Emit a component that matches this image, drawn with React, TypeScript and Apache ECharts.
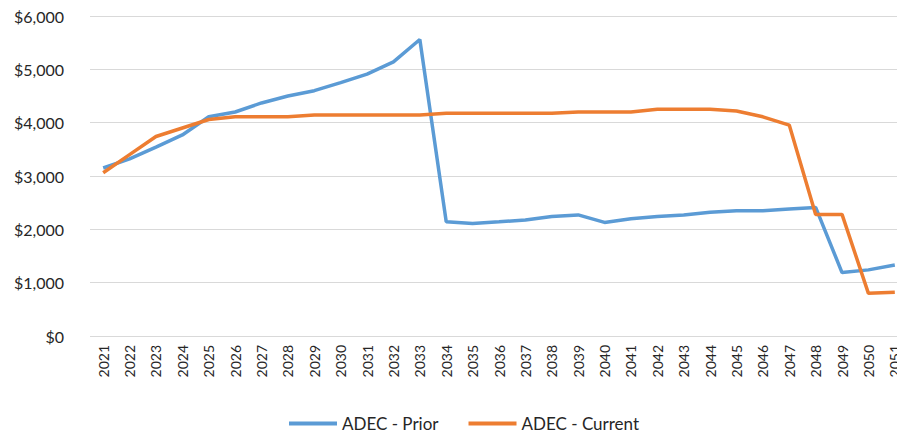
import React, { useEffect, useRef } from "react";
import * as echarts from "echarts";

const years = [
  "2021","2022","2023","2024","2025","2026","2027","2028","2029","2030",
  "2031","2032","2033","2034","2035","2036","2037","2038","2039","2040",
  "2041","2042","2043","2044","2045","2046","2047","2048","2049","2050","2051",
];

const prior = [
  3150, 3320, 3540, 3770, 4110, 4200, 4370, 4500, 4600, 4750,
  4910, 5140, 5560, 2140, 2110, 2140, 2175, 2240, 2270, 2130,
  2200, 2240, 2270, 2320, 2350, 2350, 2380, 2410, 1190, 1240, 1330,
];

const current = [
  3060, 3400, 3740, 3900, 4060, 4110, 4110, 4110, 4145, 4145,
  4145, 4145, 4145, 4175, 4175, 4175, 4175, 4175, 4200, 4200,
  4200, 4250, 4250, 4250, 4220, 4110, 3955, 2280, 2280, 800, 820,
];

const seriesNames = ["ADEC - Prior", "ADEC - Current"];
const colors = ["#5B9BD5", "#ED7D31"];

export default function App() {
  const ref = useRef<HTMLDivElement>(null);
  useEffect(() => {
    if (!ref.current) return;
    const chart = echarts.init(ref.current, undefined, { renderer: "svg" });
    chart.setOption({
      animation: false,
      textStyle: { fontFamily: "Lato" },
      grid: { left: 90, top: 16, right: 0, bottom: 99, containLabel: false },
      legend: {
        left: 289,
        top: 415,
        padding: 0,
        itemWidth: 48,
        itemHeight: 4,
        itemGap: 30,
        icon: "rect",
        textStyle: { fontSize: 17, color: "#262626", fontFamily: "Lato" },
        data: seriesNames,
      },
      xAxis: {
        type: "category",
        data: years,
        boundaryGap: true,
        axisLine: { show: false },
        axisTick: { show: false },
        axisLabel: { rotate: 90, fontSize: 14, color: "#262626", margin: 9, interval: 0 },
      },
      yAxis: {
        type: "value",
        min: 0,
        max: 6000,
        interval: 1000,
        axisLine: { show: false },
        axisTick: { show: false },
        splitLine: { lineStyle: { color: "#d9d9d9", width: 1 } },
        axisLabel: {
          fontSize: 16,
          color: "#262626",
          margin: 26,
          formatter: (v: number) => "$" + v.toLocaleString("en-US"),
        },
      },
      series: [
        {
          name: seriesNames[0],
          type: "line",
          data: prior,
          symbol: "none",
          lineStyle: { color: colors[0], width: 3.5 },
          itemStyle: { color: colors[0] },
        },
        {
          name: seriesNames[1],
          type: "line",
          data: current,
          symbol: "none",
          lineStyle: { color: colors[1], width: 3.5 },
          itemStyle: { color: colors[1] },
        },
      ],
    });
    return () => chart.dispose();
  }, []);
  return (
    <div style={{ width: 897, height: 435, position: "absolute", left: 0, top: 0, overflow: "hidden" }}>
      <div ref={ref} style={{ width: 908, height: 435 }} />
    </div>
  );
}
